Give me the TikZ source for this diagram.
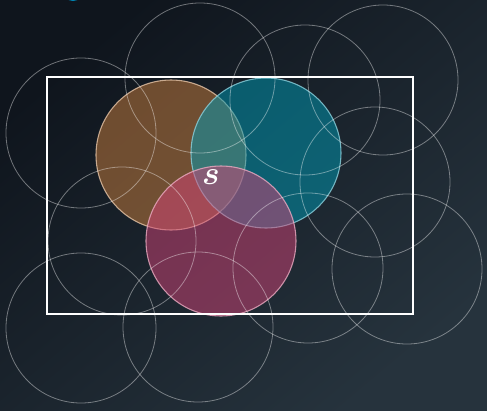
\documentclass[tikz,border=0pt]{standalone}
\usepackage{tikz}
\definecolor{bgdark}{RGB}{15,21,29}
\definecolor{bglight}{RGB}{38,51,61}
\definecolor{setA}{RGB}{204,128,62}
\definecolor{setB}{RGB}{0,156,182}
\definecolor{setC}{RGB}{212,68,120}
\definecolor{tipblue}{RGB}{0,130,175}

\begin{document}
\begin{tikzpicture}[x=0.75pt, y=-0.75pt, line join=round, line cap=round,
	ring/.style={draw=white, draw opacity=0.4, line width=0.6pt},
	blob/.style={fill=#1, fill opacity=0.5, draw=#1!45!white, draw opacity=0.8, line width=0.8pt}]
	% Nền tối
	\useasboundingbox (0,0) rectangle (487,411);
	\shade[top color=bgdark, bottom color=bglight, shading angle=40] (0,0) rectangle (487,411);
	\fill[tipblue] (73,-10) circle (11);
	
	% Ba tập màu
	\draw[blob=setA] (171,155) circle (75);
	\draw[blob=setB] (266,153) circle (75);
	\draw[blob=setC] (221,241) circle (75);
	
	% Các vòng tròn mờ
	\draw[ring] (81,133)  circle (75);
	\draw[ring] (200,78)  circle (75);
	\draw[ring] (305,100) circle (75);
	\draw[ring] (383,80)  circle (75);
	\draw[ring] (375,182) circle (75);
	\draw[ring] (122,241) circle (74);
	\draw[ring] (81,328)  circle (75);
	\draw[ring] (198,327) circle (75);
	\draw[ring] (308,268) circle (75);
	\draw[ring] (407,269) circle (75);
	
	% Khung
	\draw[white, line width=1.9pt, line cap=butt, line join=miter] (47,77) rectangle (413,314);
	\node[text=white, font=\fontsize{24}{28}\selectfont\boldmath] (lbl) at (211,177) {$s$};
\end{tikzpicture}
\end{document}
